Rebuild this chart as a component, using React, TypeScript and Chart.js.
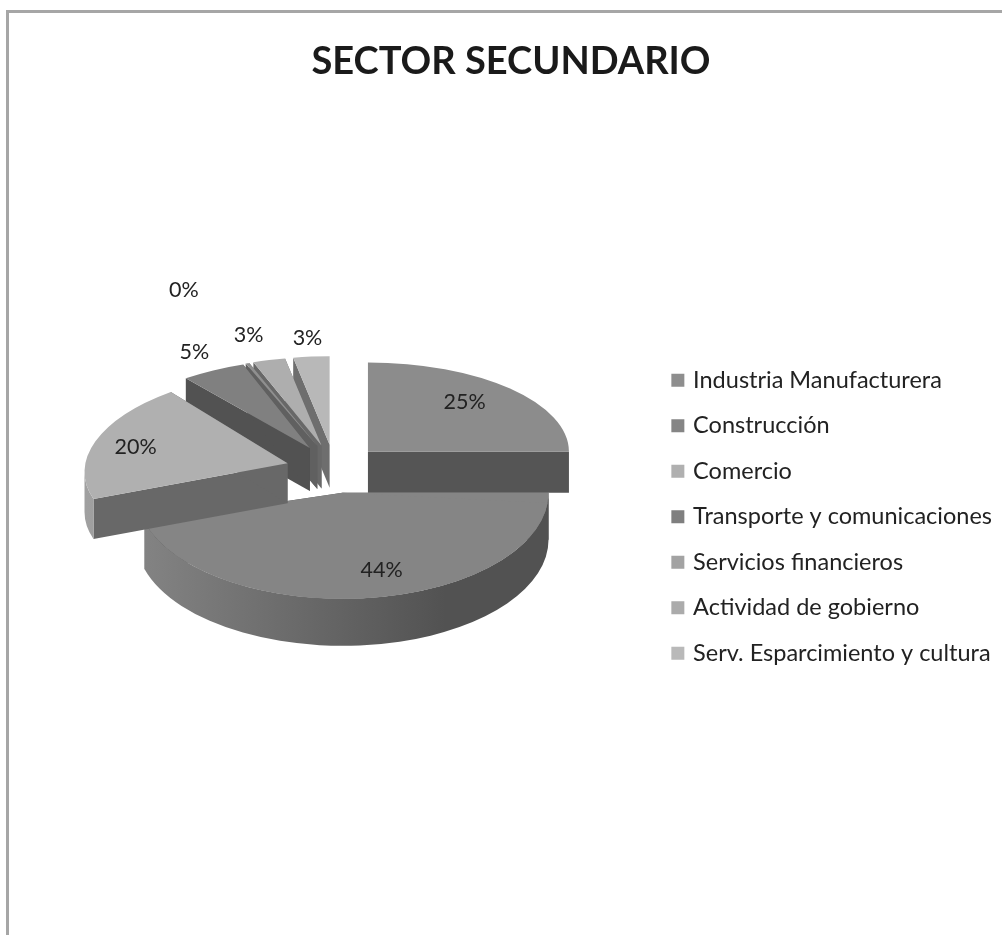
import React, { useEffect, useRef } from "react";
import { Chart, registerables } from "chart.js";

Chart.register(...registerables);

const titleText = "SECTOR SECUNDARIO";
const categories = [
  "Industria Manufacturera",
  "Construcción",
  "Comercio",
  "Transporte y comunicaciones",
  "Servicios financieros",
  "Actividad de gobierno",
  "Serv. Esparcimiento y cultura",
];
const shares = [25, 44, 20, 5.2, 0.3, 2.6, 2.9];

const topColors = ["#8c8c8c", "#858585", "#b0b0b0", "#808080", "#8f8f8f", "#aeaeae", "#b8b8b8"];
const legendColors = ["#8e8e8e", "#858585", "#b0b0b0", "#7f7f7f", "#a3a3a3", "#ababab", "#b9b9b9"];
const cutColors = ["#555555", "#555555", "#686868", "#525252", "#606060", "#686868", "#6e6e6e"];
const rimLeft = ["#6a6a6a", "#848484", "#a0a0a0", "#6a6a6a", "#6a6a6a", "#6a6a6a", "#6a6a6a"];
const rimRight = ["#555555", "#525252", "#8c8c8c", "#5a5a5a", "#5a5a5a", "#5a5a5a", "#5a5a5a"];
// the reference's perspective: each slice has its own flattening, height, radius and apparent turn
const squash = [0.445, 0.515, 0.46, 0.44, 0.44, 0.44, 0.44];
const depth = [41, 47, 40, 43, 43, 43, 43];
const radii = [201, 206, 203, 201, 201, 201, 201];
const explode = [48, 45.5, 48, 48, 48, 48, 48];
const turnDeg = [0, 0, 4.5, 1.5, 0, 0, 0];
const extendDeg = [0, 5.5, 0, 0, 0, 0, 0];
const shear = [0, 0, -0.043, 0, 0, 0, 0];
const labelFx = [0.68, 1.04, 0.78, 1.14, 1.91, 1.39, 1.21];
const labelFy = [0.68, 0.753, 0.61, 1.06, 1.59, 1.09, 1.02];
const drawOrder = [1, 6, 5, 4, 3, 2, 0];

const PIE_X = 334;
const PIE_Y = 469.5;
const PIE_R = 201;
const EXPLODE_SQUASH = 0.52;
const FONT = "Lato, Carlito, Calibri, sans-serif";
const INK = "#222222";
const RAD = Math.PI / 180;

const pie3d = {
  id: "pie3d",
  beforeDatasetsDraw(chart: any) {
    const ctx: CanvasRenderingContext2D = chart.ctx;
    const arcs = chart.getDatasetMeta(0).data as any[];
    const total = shares.reduce((a, b) => a + b, 0);
    const apex = (el: any, i: number) => {
      const mid = (el.startAngle + el.endAngle) / 2;
      return {
        x: PIE_X + Math.cos(mid) * explode[i],
        y: PIE_Y + Math.sin(mid) * explode[i] * EXPLODE_SQUASH,
      };
    };
    for (const i of drawOrder) {
      const el = arcs[i];
      const { x, y } = apex(el, i);
      const r = radii[i];
      const ry = r * squash[i];
      const d = depth[i];
      const turn = turnDeg[i] * RAD;
      const extra = extendDeg[i] * RAD;
      const start = el.startAngle + turn;
      const end = el.endAngle + turn + extra;
      const edge = (a: number) => [Math.cos(a) * r, Math.sin(a) * ry];
      ctx.save();
      ctx.translate(x, y);
      ctx.transform(1, shear[i], 0, 1, 0, 0);
      // radial cut faces
      ctx.fillStyle = cutColors[i];
      for (const a of [start, end]) {
        const [ex, ey] = edge(a);
        ctx.beginPath();
        ctx.moveTo(0, 0);
        ctx.lineTo(ex, ey);
        ctx.lineTo(ex, ey + d);
        ctx.lineTo(0, d);
        ctx.closePath();
        ctx.fill();
      }
      // outer rim: only the part that faces the viewer
      const a0 = Math.max(start, 0);
      const a1 = Math.min(end, Math.PI);
      if (a1 > a0) {
        const g = ctx.createLinearGradient(-r, 0, r, 0);
        g.addColorStop(0, rimLeft[i]);
        g.addColorStop(0.75, rimRight[i]);
        g.addColorStop(1, rimRight[i]);
        ctx.fillStyle = g;
        ctx.beginPath();
        ctx.ellipse(0, 0, r, ry, 0, a0, a1);
        ctx.ellipse(0, d, r, ry, 0, a1, a0, true);
        ctx.closePath();
        ctx.fill();
      }
      // top face, drawn by the arc element itself
      const k = r / el.outerRadius;
      const rotations = extra > 0 ? [turn, turn + extra] : [turn];
      for (const rot of rotations) {
        ctx.save();
        ctx.scale(k, k * squash[i]);
        ctx.rotate(rot);
        ctx.translate(-el.x, -el.y);
        el.draw(ctx);
        ctx.restore();
      }
      ctx.restore();
    }
    ctx.save();
    ctx.font = `21.5px ${FONT}`;
    ctx.fillStyle = INK;
    ctx.textAlign = "center";
    ctx.textBaseline = "middle";
    arcs.forEach((el, i) => {
      const mid = (el.startAngle + el.endAngle) / 2;
      const { x, y } = apex(el, i);
      const tx = x + Math.cos(mid) * PIE_R * labelFx[i];
      const ty = y + Math.sin(mid) * PIE_R * EXPLODE_SQUASH * labelFy[i];
      ctx.fillText(`${Math.round((shares[i] / total) * 100)}%`, tx, ty);
    });
    ctx.restore();
    return false;
  },
};

export default function App() {
  const ref = useRef<HTMLCanvasElement | null>(null);
  useEffect(() => {
    document.documentElement.style.overflow = "hidden";
    const chart = new Chart(ref.current as HTMLCanvasElement, {
      type: "pie",
      data: {
        labels: categories,
        datasets: [{ data: shares, backgroundColor: topColors, borderWidth: 0 }],
      },
      options: {
        animation: false,
        responsive: false,
        layout: { padding: { left: 20, right: 0, top: 0, bottom: 0 } },
        plugins: {
          tooltip: { enabled: false },
          title: {
            display: true,
            text: titleText,
            color: "#1a1a1a",
            font: { family: FONT, size: 38, weight: "bold" },
            padding: { top: 39, bottom: 14 },
          },
          legend: {
            display: true,
            position: "right",
            fullSize: false,
            labels: {
              boxWidth: 7,
              boxHeight: 7,
              padding: 22,
              color: INK,
              font: { family: FONT, size: 23.5 },
              generateLabels: () =>
                categories.map((text, i) => ({
                  text,
                  fillStyle: legendColors[i],
                  strokeStyle: legendColors[i],
                  lineWidth: 6,
                  fontColor: INK,
                  index: i,
                })),
            },
          },
        },
      },
      plugins: [pie3d],
    } as any);
    return () => chart.destroy();
  }, []);
  return (
    <div style={{ position: "absolute", left: 0, top: 0, width: 1002, height: 935, background: "#fff" }}>
      <canvas ref={ref} width={1002} height={935} style={{ position: "absolute", left: 0, top: 0 }} />
      <div
        style={{
          position: "absolute",
          left: 6,
          top: 10,
          right: 0,
          bottom: 0,
          borderLeft: "3px solid #a6a6a6",
          borderTop: "3px solid #a6a6a6",
          pointerEvents: "none",
        }}
      />
    </div>
  );
}
